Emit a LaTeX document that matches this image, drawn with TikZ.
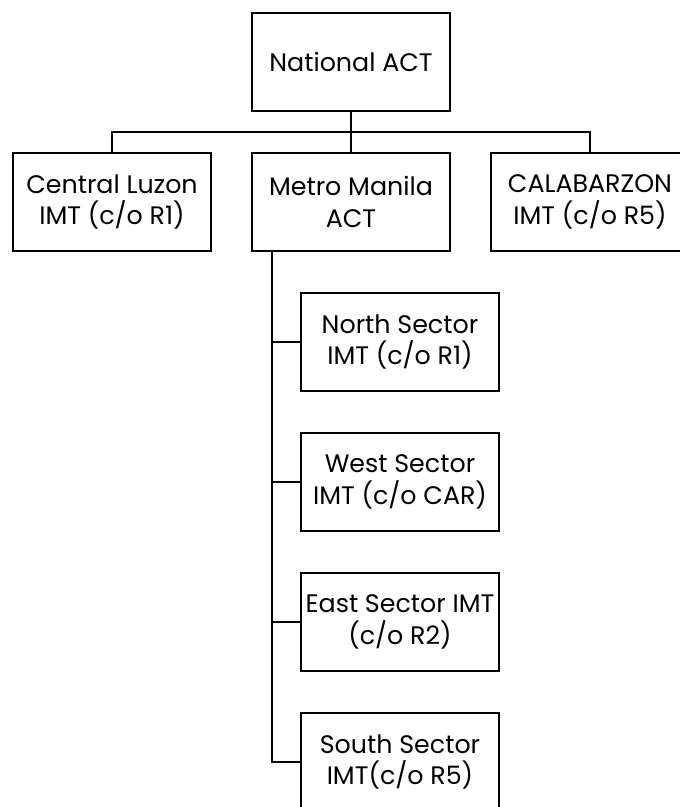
\documentclass[tikz,border=0pt]{standalone}
\usepackage{fontspec}
\setmainfont{Poppins}
\usepackage{tikz}
\tikzset{unit/.style={draw=black, line width=2pt, rectangle, align=center,
  minimum width=148.5pt, minimum height=73.5pt, inner sep=0pt,
  font=\fontsize{19}{23.5}\selectfont},
link/.style={line width=2pt}}

\begin{document}
\begin{tikzpicture}[x=0.75pt,y=-0.75pt]
\useasboundingbox (0,0) rectangle (680,807);
% top level
\node[unit] (national) at (351,62) {National ACT};
\coordinate (bus) at (351,132);

% regions
\node[unit] (central) at (112,202) {Central Luzon\\IMT (c/o R1)};
\node[unit] (metro) at (351,202) {Metro Manila\\ACT};
\node[unit] (calabarzon) at (590,202) {CALABARZON\\IMT (c/o R5)};

\draw[link] (national) -- (bus);
\draw[link] (central.north) |- (bus) -| (calabarzon.north);
\draw[link] (bus) -- (metro);

% sectors
\node[unit] (north) at (400,342) {North Sector\\IMT (c/o R1)};
\node[unit] (west) at (400,482) {West Sector\\IMT (c/o CAR)};
\node[unit] (east) at (400,622) {East Sector IMT\\(c/o R2)};
\node[unit] (south) at (400,762) {South Sector\\IMT(c/o R5)};

\coordinate (trunk) at (272,251);
\draw[link] (trunk) |- (south.west);
\foreach \s in {north,west,east}
  \draw[link] (trunk |- \s.west) -- (\s.west);

\end{tikzpicture}
\end{document}
